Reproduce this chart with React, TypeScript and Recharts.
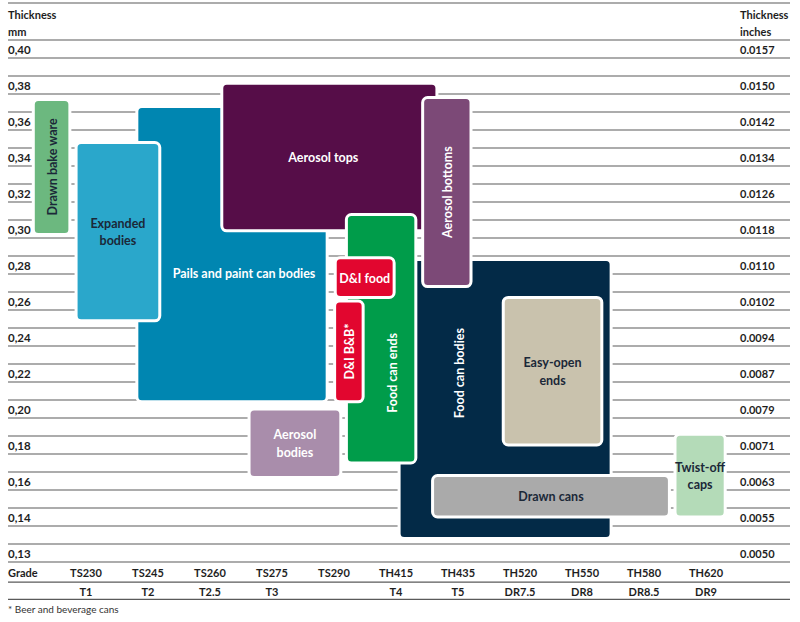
import { ComposedChart, XAxis, YAxis, ReferenceArea, ReferenceLine } from "recharts"

const grades = ["TS230", "TS245", "TS260", "TS275", "TS290", "TH415", "TH435", "TH520", "TH550", "TH580", "TH620"]
const tempers = ["T1", "T2", "T2.5", "T3", "", "T4", "T5", "DR7.5", "DR8", "DR8.5", "DR9"]
const mmLabels = ["0,40", "0,38", "0,36", "0,34", "0,32", "0,30", "0,28", "0,26", "0,24", "0,22", "0,20", "0,18", "0,16", "0,14", "0,13"]
const inchLabels = ["0.0157", "0.0150", "0.0142", "0.0134", "0.0126", "0.0118", "0.0110", "0.0102", "0.0094", "0.0087", "0.0079", "0.0071", "0.0063", "0.0055", "0.0050"]

// applications, drawn back to front
const uses = [
  "Drawn bake ware",
  "Pails and paint can bodies",
  "Expanded bodies",
  "Aerosol tops",
  "Food can bodies",
  "Aerosol bottoms",
  "Food can ends",
  "D&I food",
  "D&I B&B*",
  "Aerosol bodies",
  "Easy-open ends",
  "Drawn cans",
  "Twist-off caps",
]
// position on the grade axis (0 = TS230 ... 10 = TH620)
const gradeFrom = [-0.85, 0.82, -0.16, 2.19, 5.05, 5.43, 4.2, 4.02, 4.01, 2.63, 6.73, 5.59, 9.5]
const gradeTo = [-0.26, 3.89, 1.19, 5.66, 8.47, 6.21, 5.32, 4.97, 4.47, 4.11, 8.32, 9.41, 10.31]
// thickness range in mm
const mmTop = [0.372, 0.368, 0.348, 0.381, 0.283, 0.373, 0.308, 0.284, 0.26, 0.2, 0.262, 0.163, 0.186]
const mmBottom = [0.297, 0.204, 0.249, 0.299, 0.134, 0.268, 0.17, 0.262, 0.204, 0.162, 0.18, 0.14, 0.14]

// rows are evenly spaced, the last step (0,14 -> 0,13) is only 0.01 mm
const row = (mm: number) => (mm >= 0.14 ? (0.4 - mm) / 0.02 : 13 + (0.14 - mm) / 0.01)

const DARK = "#1b2838"
const looks = [
  { fill: "#6cb87f", ink: DARK, vertical: true, wrap: false, dx: 0, dy: 0 },
  { fill: "#0086b1", ink: "#fff", vertical: false, wrap: false, dx: 12, dy: 19 },
  { fill: "#2aa7cb", ink: DARK, vertical: false, wrap: true, dx: 0, dy: 0 },
  { fill: "#560d48", ink: "#fff", vertical: false, wrap: false, dx: -6, dy: 0 },
  { fill: "#032a47", ink: "#fff", vertical: true, wrap: false, dx: -46, dy: -26 },
  { fill: "#7c4977", ink: "#fff", vertical: true, wrap: false, dx: 0, dy: 0 },
  { fill: "#009c4a", ink: "#fff", vertical: true, wrap: false, dx: 11, dy: 34 },
  { fill: "#e2062f", ink: "#fff", vertical: false, wrap: false, dx: 0, dy: 0 },
  { fill: "#e2062f", ink: "#fff", vertical: true, wrap: false, dx: 0, dy: 0 },
  { fill: "#a98dab", ink: "#fff", vertical: false, wrap: true, dx: 0, dy: 0 },
  { fill: "#c9c2ad", ink: DARK, vertical: false, wrap: true, dx: 0, dy: 0 },
  { fill: "#aaaaaa", ink: DARK, vertical: false, wrap: false, dx: 0, dy: 0 },
  { fill: "#b4dbb8", ink: DARK, vertical: false, wrap: true, dx: 0, dy: 0 },
]

const FONT = "Lato, 'Open Sans', sans-serif"
const INK = "#1e1e1e"
const TOP = -1.2778
const BOTTOM = 14.25
const rules = [TOP, ...mmLabels.flatMap((_, k) => [k - 0.25, k + 0.25]), 14.81, 15.29]

function boxShape(i: number) {
  const look = looks[i]
  return (p: any) => {
    const { x, y, width, height } = p
    const cx = x + width / 2 + look.dx
    const cy = y + height / 2 + look.dy
    const parts = look.wrap ? uses[i].split(" ") : [uses[i]]
    return (
      <g>
        <rect x={x} y={y} width={width} height={height} rx={5} ry={5} fill={look.fill} stroke="#fff" strokeWidth={3} />
        <text
          x={cx}
          y={cy}
          textAnchor="middle"
          dominantBaseline="central"
          transform={look.vertical ? `rotate(-90 ${cx} ${cy})` : undefined}
          fontFamily={FONT}
          fontWeight={700}
          fontSize={12.5}
          fill={look.ink}
        >
          {parts.map((t, j) => (
            <tspan key={j} x={cx} y={cy + (j - (parts.length - 1) / 2) * 17.5}>
              {t}
            </tspan>
          ))}
        </text>
      </g>
    )
  }
}

const MmTick = ({ x, y, payload }: any) => {
  const v = payload.value
  if (v < 0) {
    return (
      <text x={x} y={y} fontFamily={FONT} fontWeight={700} fontSize={11} fill={INK} textAnchor="start" dominantBaseline="central">
        <tspan x={x} y={y - 8.5}>Thickness</tspan>
        <tspan x={x} y={y + 8.5}>mm</tspan>
      </text>
    )
  }
  return (
    <text x={x} y={y} fontFamily={FONT} fontWeight={700} fontSize={11.5} fill={INK} textAnchor="start" dominantBaseline="central">
      {mmLabels[v]}
    </text>
  )
}

const InchTick = ({ x, y, payload }: any) => {
  const v = payload.value
  const left = x - 50
  if (v < 0) {
    return (
      <text x={left} y={y} fontFamily={FONT} fontWeight={700} fontSize={11} fill={INK} textAnchor="start" dominantBaseline="central">
        <tspan x={left} y={y - 8.5}>Thickness</tspan>
        <tspan x={left} y={y + 8.5}>inches</tspan>
      </text>
    )
  }
  return (
    <text x={left} y={y} fontFamily={FONT} fontWeight={700} fontSize={11} fill={INK} textAnchor="start" dominantBaseline="central">
      {inchLabels[v]}
    </text>
  )
}

const GradeTick = ({ x, y, payload }: any) => {
  const v = payload.value
  return (
    <g fontFamily={FONT} fontWeight={700} fontSize={11} fill={INK}>
      <text x={v < 0 ? x - 16 : x} y={y + 10} textAnchor={v < 0 ? "start" : "middle"} dominantBaseline="central" fill={INK}>
        {v < 0 ? "Grade" : grades[v]}
      </text>
      <text x={x} y={y + 29} textAnchor="middle" dominantBaseline="central" fill={INK}>
        {v < 0 ? "" : tempers[v]}
      </text>
    </g>
  )
}

const Footnote = (p: any) => {
  const vb = p.viewBox
  return (
    <text x={vb.x} y={vb.y + vb.height + 9} fontFamily={FONT} fontSize={10} fill="#333" dominantBaseline="central">
      * Beer and beverage cans
    </text>
  )
}

const rowTicks = [-0.74, ...mmLabels.map((_, k) => k)]
const gradeRows = grades.map((g, i) => ({ pos: i, grade: g, row: 0 }))

export default function App() {
  return (
    <div style={{ position: "absolute", left: 0, top: 0, width: 800, height: 622, background: "#fff" }}>
      <ComposedChart width={800} height={622} data={gradeRows} margin={{ top: 3, right: 10, bottom: 22, left: 8 }}>
        <XAxis
          dataKey="pos"
          type="number"
          domain={[-1.258, 11.355]}
          ticks={[-1, ...grades.map((_, i) => i)]}
          interval={0}
          allowDataOverflow
          axisLine={false}
          tickLine={false}
          tickSize={0}
          tickMargin={0}
          height={38}
          tick={GradeTick}
          label={{ content: Footnote }}
        />
        <YAxis
          yAxisId="mm"
          dataKey="row"
          type="number"
          domain={[TOP, BOTTOM]}
          reversed
          allowDataOverflow
          mirror
          ticks={rowTicks}
          interval={0}
          axisLine={false}
          tickLine={false}
          tickSize={0}
          tickMargin={0}
          width={60}
          tick={MmTick}
        />
        <YAxis
          yAxisId="in"
          orientation="right"
          type="number"
          domain={[TOP, BOTTOM]}
          reversed
          allowDataOverflow
          mirror
          ticks={rowTicks}
          interval={0}
          axisLine={false}
          tickLine={false}
          tickSize={0}
          tickMargin={0}
          width={60}
          tick={InchTick}
        />
        {rules.map((r, i) => (
          <ReferenceLine
            key={"r" + i}
            yAxisId="mm"
            y={r}
            stroke="#5a5a5a"
            strokeWidth={1.2}
            ifOverflow="visible"
            zIndex={-50}
          />
        ))}
        {uses.map((u, i) => (
          <ReferenceArea
            key={u}
            yAxisId="mm"
            x1={gradeFrom[i]}
            x2={gradeTo[i]}
            y1={row(mmTop[i])}
            y2={row(mmBottom[i])}
            ifOverflow="visible"
            zIndex={100 + i}
            shape={boxShape(i)}
          />
        ))}
      </ComposedChart>
    </div>
  )
}
